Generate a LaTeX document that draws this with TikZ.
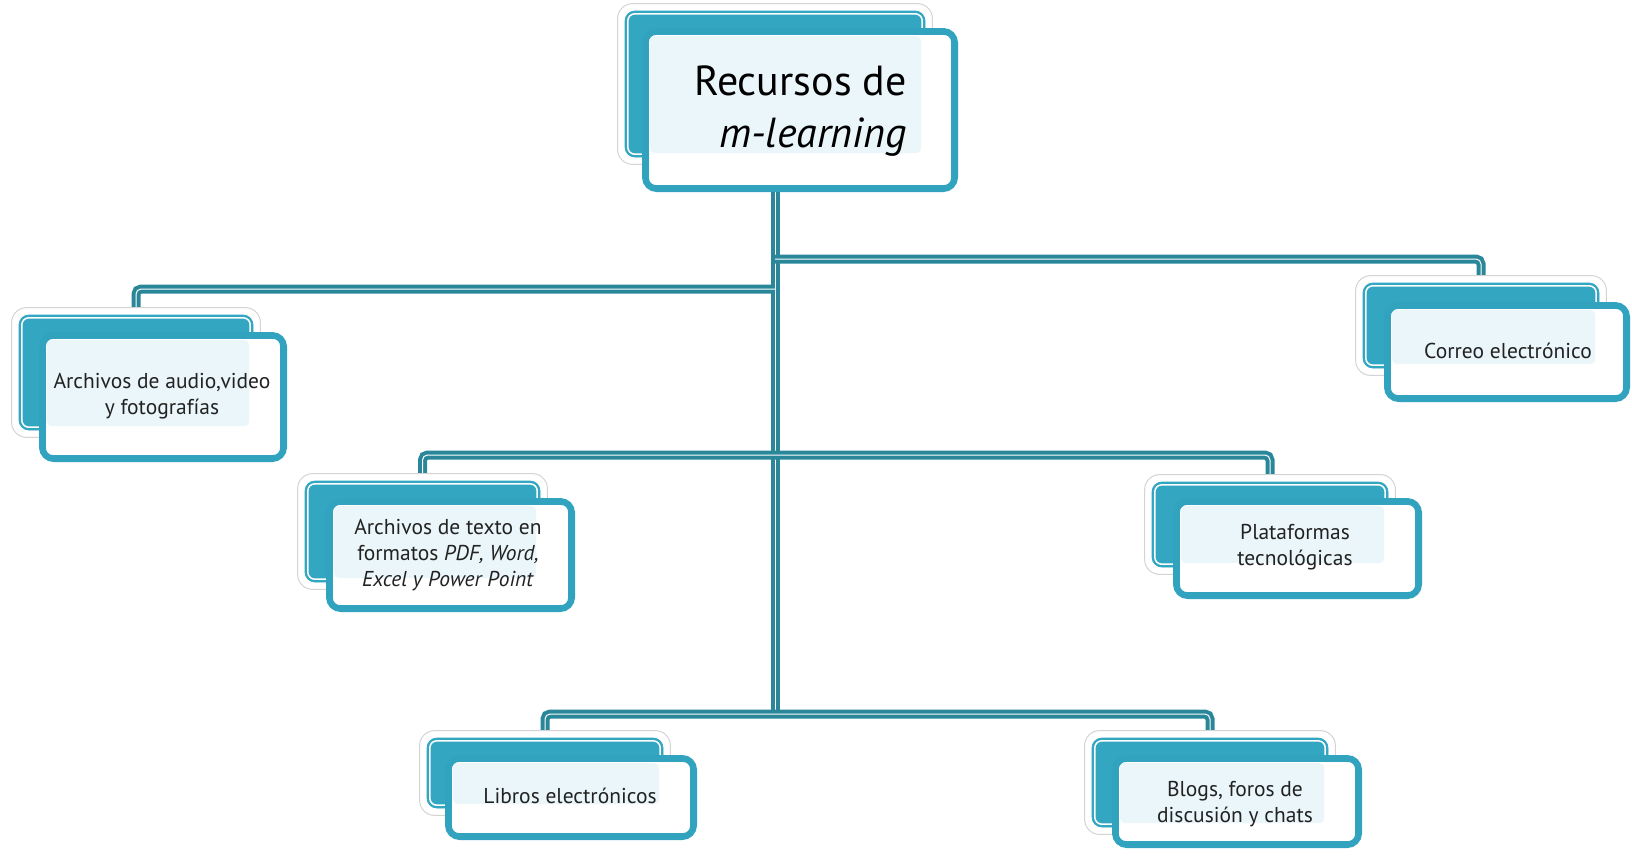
\documentclass[tikz,border=0pt]{standalone}
\usepackage{fontspec}
\setmainfont{PT Sans}
\usetikzlibrary{fit,calc}
\pgfdeclarelayer{conn}
\pgfdeclarelayer{bg}
\pgfsetlayers{conn,bg,main}
\definecolor{bteal}{HTML}{33A6C2}
\definecolor{fteal}{HTML}{31A3BE}
\definecolor{conncol}{HTML}{2A8699}
\definecolor{lightfill}{HTML}{EAF6F9}
\definecolor{framegray}{HTML}{D4D4D4}
\definecolor{txt}{HTML}{222222}
\tikzset{
  backbox/.style={fill=bteal, draw=bteal, line width=0.8pt, rounded corners=10pt, inner sep=0pt},
  frontbox/.style={fill=white, draw=fteal, line width=5.5pt, rounded corners=12pt, inner sep=0pt},
  conn/.style={draw=conncol, line width=9pt, rounded corners=5pt, postaction={draw=white, line width=1pt}},
  lbl/.style={text=txt, align=center, inner sep=0pt, font={\fontsize{21.5}{26}\selectfont}},
}
\newcommand\mkunit[9]{%
  \coordinate (#1-ba) at (#2,#3);
  \coordinate (#1-bc) at (#4,#5);
  \coordinate (#1-fa) at (#6+2.75,#7+2.75);
  \coordinate (#1-fc) at (#8-2.75,#9-2.75);
  \node[backbox, fit=(#1-ba)(#1-bc)] (#1-b) {};
  \begin{pgfonlayer}{bg}
    \draw[framegray, line width=1pt, fill=white, rounded corners=15pt]
      ([xshift=-7pt,yshift=7pt]#1-b.north west) rectangle ([xshift=7pt,yshift=-7pt]#1-b.south east);
  \end{pgfonlayer}
  \draw[white, line width=1.5pt, rounded corners=7pt]
    ([xshift=3.2pt,yshift=-3.2pt]#1-b.north west) rectangle ([xshift=-3.2pt,yshift=3.2pt]#1-b.south east);
  \node[frontbox, fit=(#1-fa)(#1-fc)] (#1-f) {};
  \draw[fteal, line width=1.8pt, rounded corners=8pt]
    ([xshift=6pt,yshift=-6pt]#1-f.north west) rectangle ([xshift=-6pt,yshift=6pt]#1-f.south east);
  \fill[lightfill, rounded corners=5pt]
    ([xshift=8pt,yshift=-8pt]#1-f.north west) rectangle ([xshift=-4.2pt,yshift=4.2pt]#1-b.south east);
}
\begin{document}
\begin{tikzpicture}[x=1pt,y=-1pt]
\useasboundingbox (0,0) rectangle (1632,855);

% boxes
\mkunit{top}{625}{11}{925}{157}{642}{28}{958}{192}
\mkunit{aud}{19}{315}{253}{430}{39}{332}{287}{462}
\mkunit{cor}{1363}{283}{1599}{368}{1384}{302}{1630}{402}
\mkunit{tex}{305}{481}{540}{582}{326}{498}{575}{612}
\mkunit{pla}{1152}{482}{1388}{567}{1173}{498}{1422}{599}
\mkunit{lib}{427}{738}{663}{808}{445}{755}{697}{840}
\mkunit{blo}{1092}{738}{1328}{827}{1112}{755}{1362}{848}

% texts
\node[lbl, text=black, anchor=east, align=right, font={\fontsize{42}{52}\selectfont}] (t-top) at (907,111) {Recursos de\\\textit{m-learning}};
\node[lbl] (t-aud) at (162,396) {Archivos de audio,video\\y fotografías};
\node[lbl] (t-cor) at (1508,351) {Correo electrónico};
\node[lbl] (t-tex) at (448,555) {Archivos de texto en\\formatos \textit{PDF, Word,}\\\textit{Excel y Power Point}};
\node[lbl] (t-pla) at (1295,547) {Plataformas\\tecnológicas};
\node[lbl] (t-lib) at (570,796) {Libros electrónicos};
\node[lbl] (t-blo) at (1235,804) {Blogs, foros de\\discusión y chats};

% connectors
\coordinate (yr) at (775,259);
\coordinate (yl) at (775,289);
\coordinate (ym) at (775,455);
\coordinate (yb) at (775,714);
\begin{pgfonlayer}{conn}
  \draw[conn] (top-b.south) -- (yb);
  \draw[conn] (yr) -| (cor-b.north);
  \draw[conn] (yl) -| (aud-b.north);
  \draw[conn] (tex-b.north) |- (ym) -| (pla-b.north);
  \draw[conn] (lib-b.north) |- (yb) -| (blo-b.north);
\end{pgfonlayer}
\end{tikzpicture}
\end{document}
